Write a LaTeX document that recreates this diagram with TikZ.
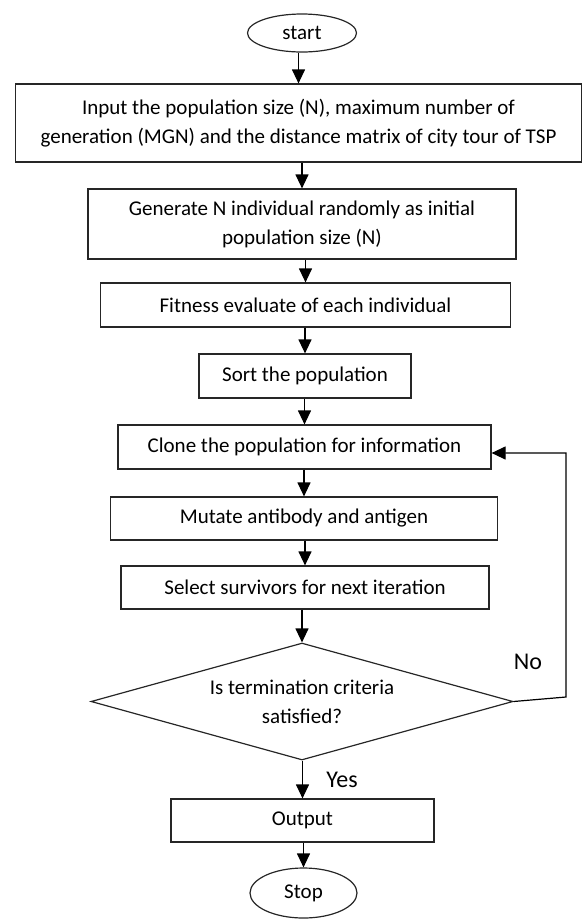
\documentclass[tikz,border=0pt]{standalone}
\usepackage{fontspec}
\setmainfont{Carlito}
\usetikzlibrary{arrows.meta,shapes.geometric}

\begin{document}
\begin{tikzpicture}[x=1pt, y=-1pt, >={Triangle[length=14pt, width=13pt]},
  every node/.style={font=\fontsize{21}{29}\selectfont, align=center, inner sep=0pt},
  proc/.style={draw=black!85, line width=1.2pt, rectangle},
  term/.style={draw=black!85, line width=1.2pt, ellipse},
  decide/.style={draw=black!85, line width=1.2pt, diamond, aspect=3.6},
  lbl/.style={font=\fontsize{24}{28}\selectfont}]
  \useasboundingbox (0,0) rectangle (583,922);
  \node[term, minimum width=109pt, minimum height=38pt] (start) at (302,33) {start};
  \node[proc, minimum width=566pt, minimum height=78pt] (in) at (298.5,123)
        {Input the population size (N), maximum number of\\generation (MGN) and the distance matrix of city tour of TSP};
  \node[proc, minimum width=428pt, minimum height=70pt] (gen) at (302,224)
        {Generate N individual randomly as initial\\population size (N)};
  \node[proc, minimum width=410pt, minimum height=44pt] (fit) at (305.5,305) {Fitness evaluate of each individual};
  \node[proc, minimum width=212pt, minimum height=44pt] (sort) at (305,376) {Sort the population};
  \node[proc, minimum width=373pt, minimum height=44pt] (clone) at (304.5,447) {Clone the population for information};
  \node[proc, minimum width=387pt, minimum height=43pt] (mut) at (304,518.5) {Mutate antibody and antigen};
  \node[proc, minimum width=368pt, minimum height=43pt] (sel) at (305,587.5) {Select survivors for next iteration};
  \node[decide, minimum width=422pt, minimum height=117pt] (cond) at (302,701.5)
        {Is termination criteria\\satisfied?};
  \node[proc, minimum width=263pt, minimum height=43pt] (out) at (302.5,820.5) {Output};
  \node[term, minimum width=107pt, minimum height=50pt] (stop) at (303.5,893) {Stop};
  \node[lbl] (yes) at (342,780) {Yes};
  \node[lbl] (no) at (528,662) {No};
  \coordinate (loopbot) at (566,697);
  \coordinate (looptop) at (566,453);
  \foreach \a/\b in {start/in, in/gen, gen/fit, fit/sort, sort/clone, clone/mut, mut/sel, sel/cond, cond/out, out/stop}
    \draw[->, line width=1.2pt] (\a.south -| \b.north) -- (\b.north);
  \draw[->, line width=1.2pt] (cond.east) -- (loopbot) -- (looptop) -- (looptop -| clone.east);
\end{tikzpicture}
\end{document}
